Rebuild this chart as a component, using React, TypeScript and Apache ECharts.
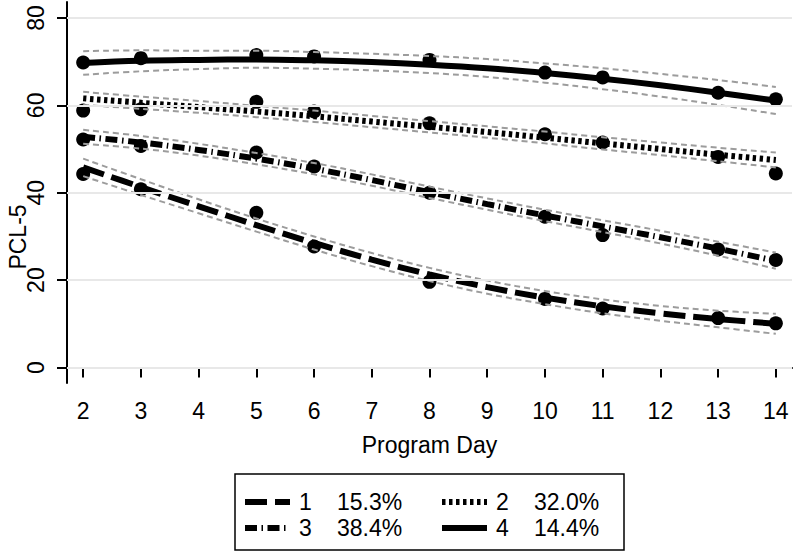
import React, { useEffect, useRef } from "react";
import * as echarts from "echarts";

const days = [2, 3, 4, 5, 6, 7, 8, 9, 10, 11, 12, 13, 14];
const obsDays = [2, 3, 5, 6, 8, 10, 11, 13, 14];
const yTicks = [0, 20, 40, 60, 80];

const classNames = ["1", "2", "3", "4"];
const classShares = ["15.3%", "32.0%", "38.4%", "14.4%"];

// Class 1 (long dash)
const fit1 = [45.8, 41.3, 36.9, 32.6, 28.5, 24.7, 21.3, 18.4, 16.0, 14.0, 12.4, 11.1, 10.0];
const hi1 = [47.8, 43.1, 38.5, 34.1, 30.0, 26.2, 22.8, 19.9, 17.5, 15.6, 14.1, 13.0, 12.3];
const lo1 = [43.8, 39.5, 35.3, 31.1, 27.0, 23.2, 19.8, 16.9, 14.5, 12.4, 10.7, 9.2, 7.7];
const obs1 = [44.3, 40.8, 35.4, 27.7, 19.6, 15.7, 13.5, 11.3, 10.1];

// Class 2 (dotted)
const fit2 = [61.6, 60.6, 59.6, 58.6, 57.5, 56.3, 55.1, 53.9, 52.6, 51.3, 50.0, 48.7, 47.5];
const hi2 = [63.1, 62.0, 61.0, 59.9, 58.8, 57.6, 56.4, 55.2, 54.0, 52.7, 51.5, 50.3, 49.2];
const lo2 = [60.1, 59.2, 58.3, 57.3, 56.2, 55.0, 53.8, 52.6, 51.3, 49.9, 48.6, 47.2, 45.8];
const obs2 = [58.8, 59.1, 60.8, 58.6, 55.9, 53.4, 51.5, 48.2, 44.4];

// Class 3 (dash-dot)
const fit3 = [52.8, 51.5, 49.8, 47.8, 45.5, 42.9, 40.1, 37.4, 34.8, 32.3, 29.8, 27.2, 24.4];
const hi3 = [54.4, 53.0, 51.2, 49.1, 46.8, 44.2, 41.4, 38.7, 36.1, 33.7, 31.3, 28.8, 26.3];
const lo3 = [51.2, 50.1, 48.5, 46.5, 44.2, 41.6, 38.8, 36.1, 33.5, 31.0, 28.4, 25.6, 22.6];
const obs3 = [52.2, 50.7, 49.2, 46.0, 40.0, 34.5, 30.3, 27.0, 24.6];

// Class 4 (solid)
const fit4 = [69.7, 70.2, 70.4, 70.5, 70.3, 69.9, 69.3, 68.5, 67.4, 66.1, 64.6, 62.9, 61.1];
const hi4 = [72.4, 72.6, 72.5, 72.5, 72.2, 71.8, 71.3, 70.6, 69.6, 68.5, 67.2, 65.8, 64.2];
const lo4 = [67.0, 67.8, 68.3, 68.6, 68.4, 68.0, 67.4, 66.5, 65.2, 63.7, 62.0, 60.1, 58.0];
const obs4 = [69.8, 70.8, 71.5, 71.2, 70.4, 67.5, 66.4, 62.9, 61.4];

const FONT = "Liberation Sans";
const FS = 23;
const dashStyles: any[] = [[22, 8], [3.5, 3.5], [12, 4.5, 1.5, 4.5], "solid"];

const fits = [fit1, fit2, fit3, fit4];
const his = [hi1, hi2, hi3, hi4];
const los = [lo1, lo2, lo3, lo4];
const obss = [obs1, obs2, obs3, obs4];

function pair(xs: number[], ys: number[]) {
  return xs.map((x, i) => [x, ys[i]]);
}

export default function App() {
  const ref = useRef<HTMLDivElement>(null);
  useEffect(() => {
    if (!ref.current) return;
    const chart = echarts.init(ref.current, null, { renderer: "svg" });
    const series: any[] = [];
    series.push({
      type: "line",
      data: [],
      z: 0,
      silent: true,
      markLine: {
        silent: true,
        symbol: "none",
        label: { show: false },
        lineStyle: { color: "#e8e8e8", width: 2, type: "solid" },
        data: yTicks.map((v) => ({ yAxis: v })),
      },
    });
    for (let c = 0; c < 4; c++) {
      series.push({
        type: "scatter",
        name: "obs" + classNames[c],
        data: pair(obsDays, obss[c]),
        symbol: "circle",
        symbolSize: 14,
        itemStyle: { color: "#000", opacity: 1 },
        z: 2,
      });
      series.push({
        type: "line",
        name: classNames[c],
        data: pair(days, fits[c]),
        smooth: 0.4,
        showSymbol: false,
        lineStyle: { color: "#000", width: 6, type: dashStyles[c], cap: "butt" },
        z: 3,
      });
      for (const band of [his[c], los[c]]) {
        series.push({
          type: "line",
          data: pair(days, band),
          smooth: 0.4,
          showSymbol: false,
          lineStyle: { color: "#9c9c9c", width: 2, type: [6, 4] },
          z: 4,
        });
      }
    }

    const lx1 = 245, lx2 = 442;
    const rows = [502, 528];
    const legendItems: any[] = [
      {
        type: "rect",
        shape: { x: 235, y: 474, width: 389, height: 76 },
        style: { fill: "none", stroke: "#000", lineWidth: 1.5 },
      },
    ];
    [0, 1, 2, 3].forEach((c) => {
      const row = Math.floor(c / 2);
      const col = c % 2;
      const x0 = col === 0 ? lx1 : lx2;
      const y = rows[row];
      legendItems.push({
        type: "line",
        shape: { x1: x0, y1: y, x2: x0 + 45, y2: y },
        style: {
          stroke: "#000",
          lineWidth: 6,
          lineDash: dashStyles[c] === "solid" ? null : dashStyles[c],
          lineCap: "butt",
        },
      });
      legendItems.push({
        type: "text",
        x: x0 + 54,
        y: y,
        style: {
          text: classNames[c],
          font: `${FS}px "${FONT}"`,
          fill: "#000",
          textAlign: "left",
          textVerticalAlign: "middle",
        },
      });
      legendItems.push({
        type: "text",
        x: x0 + 92,
        y: y,
        style: {
          text: classShares[c],
          font: `${FS}px "${FONT}"`,
          fill: "#000",
          textAlign: "left",
          textVerticalAlign: "middle",
        },
      });
    });
    legendItems.push({
      type: "text",
      x: 18,
      y: 237,
      rotation: Math.PI / 2,
      style: {
        text: "PCL-5",
        font: `${FS}px "${FONT}"`,
        fill: "#000",
        textAlign: "center",
        textVerticalAlign: "middle",
      },
    });

    chart.setOption({
      animation: false,
      grid: { left: 67, right: 4, top: 2, bottom: 171, containLabel: false },
      xAxis: {
        type: "value",
        min: 1.72,
        max: 14.28,
        name: "Program Day",
        nameLocation: "middle",
        nameGap: 50,
        nameTextStyle: { fontFamily: FONT, fontSize: FS, color: "#000" },
        axisLine: { show: true, lineStyle: { color: "#000", width: 2 } },
        axisTick: { show: true, customValues: days, length: 10, lineStyle: { color: "#000", width: 2 } },
        axisLabel: { customValues: days, margin: 16, fontFamily: FONT, fontSize: FS, color: "#000" },
        splitLine: { show: false },
      },
      yAxis: {
        type: "value",
        min: -3.55,
        max: 83.66,
        axisLine: { show: true, lineStyle: { color: "#000", width: 2 } },
        axisTick: { show: true, customValues: yTicks, length: 10, lineStyle: { color: "#000", width: 2 } },
        axisLabel: { customValues: yTicks, rotate: 90, margin: 20, fontFamily: FONT, fontSize: FS, color: "#000" },
        splitLine: { show: false },
      },
      graphic: legendItems,
      series,
    });
    return () => chart.dispose();
  }, []);
  return (
    <div
      ref={ref}
      style={{ position: "fixed", left: 0, top: 0, width: 796, height: 554, background: "#fff" }}
    />
  );
}
